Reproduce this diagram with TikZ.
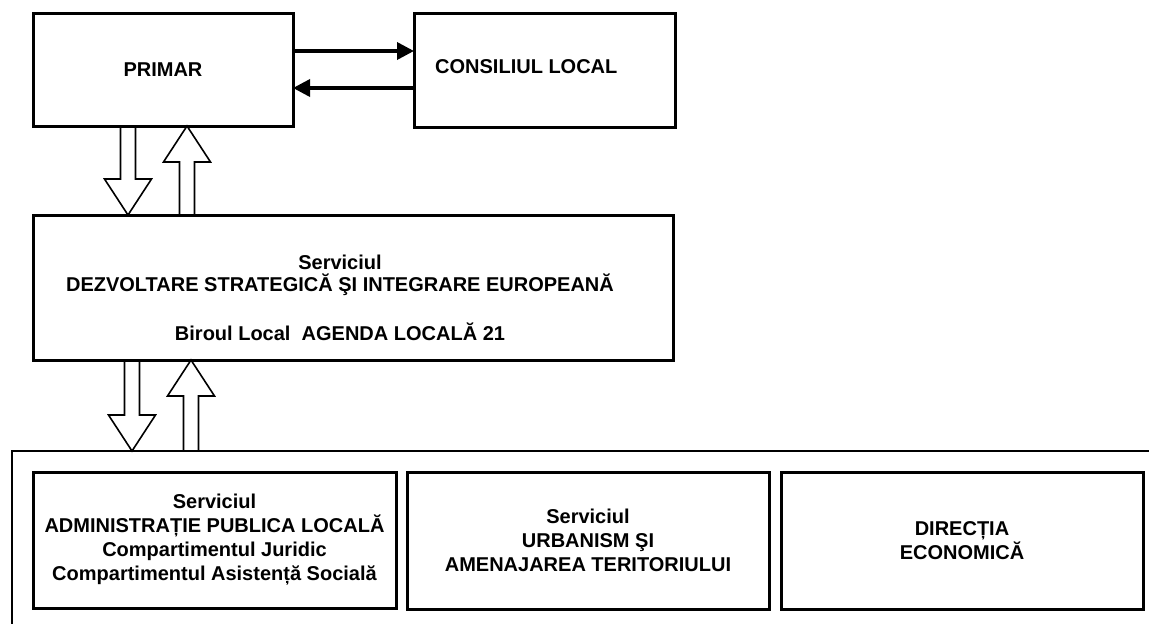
\documentclass[tikz,border=0pt]{standalone}
\usepackage{fontspec}
\setmainfont{Liberation Sans}
\usetikzlibrary{arrows.meta,calc}
\tikzset{
  box/.style={draw=black, line width=3pt, rectangle, inner sep=0pt, outer sep=0pt,
    font=\fontsize{20}{24}\selectfont\bfseries, align=center},
  txt/.style={inner sep=0pt, font=\fontsize{20}{22}\selectfont\bfseries, align=center},
  flow/.style={line width=3.5pt, -{Triangle[length=17pt,width=17pt]}},
  hollow/.style={draw=black, line width=1.6pt, line join=miter},
  frameline/.style={draw=black, line width=2.5pt},
}
\newcommand\blkdown[2]{\draw[hollow] let \p1=(#1), \p2=(#2) in
  (\x1-7.5pt,\y1) -- (\x1-7.5pt,\y2+36pt) -- (\x1-23.5pt,\y2+36pt) -- (\x2,\y2)
  -- (\x1+23.5pt,\y2+36pt) -- (\x1+7.5pt,\y2+36pt) -- (\x1+7.5pt,\y1);}
\newcommand\blkup[2]{\draw[hollow] let \p1=(#1), \p2=(#2) in
  (\x1-7.5pt,\y1) -- (\x1-7.5pt,\y2-36pt) -- (\x1-23.5pt,\y2-36pt) -- (\x2,\y2)
  -- (\x1+23.5pt,\y2-36pt) -- (\x1+7.5pt,\y2-36pt) -- (\x1+7.5pt,\y1);}
\begin{document}
\begin{tikzpicture}[x=1pt,y=-1pt]
\useasboundingbox (0,0) rectangle (1149,624);
\fill[white] (0,0) rectangle (1149,624);

% top boxes
\node[box, minimum width=260pt, minimum height=113pt] (primar) at (163,69.5) {PRIMAR};
\node[box, minimum width=261pt, minimum height=114pt] (consiliu) at (544.5,70) {};
\node[txt, anchor=west] (consiliutxt) at (435,67) {CONSILIUL LOCAL};

% middle box
\node[box, minimum width=640pt, minimum height=145pt] (serv) at (353,287.5) {};
\node[txt] (servtxt) at (340,298) {Serviciul\\DEZVOLTARE STRATEGICĂ ŞI INTEGRARE EUROPEANĂ\\[27pt]Biroul Local\ \ AGENDA LOCALĂ 21};

% container
\coordinate (ctl) at (12,451);
\draw[frameline] ($(ctl)+(1137,0)$) -- (ctl) -- ($(ctl)+(0,173)$);

% bottom boxes
\node[box, minimum width=363pt, minimum height=136pt] (admin) at (214.5,540)
  {Serviciul\\ADMINISTRAȚIE PUBLICA LOCALĂ\\Compartimentul Juridic\\Compartimentul Asistență Socială};
\node[box, minimum width=362pt, minimum height=137pt] (urban) at (588,540.5)
  {Serviciul\\URBANISM ŞI\\AMENAJAREA TERITORIULUI};
\node[box, minimum width=362pt, minimum height=137pt] (econ) at (962,540.5)
  {DIRECȚIA\\ECONOMICĂ};

% arrows between primar and consiliu
\draw[flow] ($(primar.north east)+(0,38)$) -- ($(consiliu.north west)+(0,38)$);
\draw[flow] ($(consiliu.north west)+(0,75)$) -- ($(primar.north east)+(0,75)$);

% hollow arrows primar <-> serv
\coordinate (a1t) at ($(primar.south west)+(95,0)$);
\coordinate (a1h) at ($(serv.north west)+(95,0)$);
\blkdown{a1t}{a1h}
\coordinate (a2t) at ($(serv.north west)+(154,0)$);
\coordinate (a2h) at ($(primar.south west)+(154,0)$);
\blkup{a2t}{a2h}

% hollow arrows serv <-> container
\coordinate (a3t) at ($(serv.south west)+(99,0)$);
\coordinate (a3h) at ($(ctl)+(120,0)$);
\blkdown{a3t}{a3h}
\coordinate (a4t) at ($(ctl)+(179,0)$);
\coordinate (a4h) at ($(serv.south west)+(158,0)$);
\blkup{a4t}{a4h}
\end{tikzpicture}
\end{document}
